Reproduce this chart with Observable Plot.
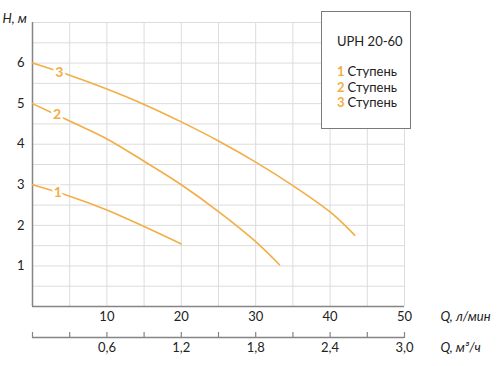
<!DOCTYPE html>
<html>
<head>
<meta charset="utf-8">
<script src="https://cdn.jsdelivr.net/npm/d3@7"></script>
<script src="https://cdn.jsdelivr.net/npm/@observablehq/plot@0.6"></script>
<style>
  body { margin: 0; background: #fff; }
  #wrap { position: relative; width: 500px; height: 366px; font-family: Lato, "Open Sans", sans-serif; }
  #legend { position: absolute; left: 321px; top: 11px; width: 90px; height: 118px; background: #fff;
            border: 1px solid #7a7a7a; box-sizing: border-box; color: #222; font-size: 13px; }
  #legend .t { position: absolute; left: 15px; top: 21px; }
  #legend .it { position: absolute; left: 15px; }
  #legend .n { color: #F2AE45; font-weight: bold; margin-right: 3px; }
</style>
</head>
<body>
<div id="wrap"></div>
<script>
// ---- data ----
const stages = [1, 2, 3];
const stageWord = "Ступень";
const modelName = "UPH 20-60";
const stage1Q = [0, 5, 10, 15, 20];
const stage1H = [3.0, 2.72, 2.38, 1.97, 1.54];
const stage2Q = [0, 5, 10, 15, 20, 25, 30, 33.2];
const stage2H = [5.0, 4.57, 4.13, 3.58, 3.0, 2.34, 1.60, 1.03];
const stage3Q = [0, 5, 10, 15, 20, 25, 30, 35, 40, 43.3];
const stage3H = [6.0, 5.70, 5.36, 4.98, 4.55, 4.08, 3.56, 2.98, 2.33, 1.76];
const labelQ = [3.4, 3.3, 3.6];
const labelH = [2.80, 4.72, 5.77];
const flowTicks = [10, 20, 30, 40, 50];            // л/мин
const m3Ticks = [0, 0.3, 0.6, 0.9, 1.2, 1.5, 1.8, 2.1, 2.4, 2.7, 3.0]; // м³/ч
const m3Labels = [0.6, 1.2, 1.8, 2.4, 3.0];
const headTicks = [1, 2, 3, 4, 5, 6];
const gridQ = [5, 10, 15, 20, 25, 30, 35, 40, 45, 50];
const gridH = [0.5, 1, 1.5, 2, 2.5, 3, 3.5, 4, 4.5, 5, 5.5, 6, 6.5, 7];

const m3ToLmin = 1000 / 60;
const orange = "#F2AE45";
const stageQ = [stage1Q, stage2Q, stage3Q];
const stageH = [stage1H, stage2H, stage3H];
const points = stages.flatMap((s, i) => stageQ[i].map((q, j) => ({stage: s, Q: q, H: stageH[i][j]})));
const labels = stages.map((s, i) => ({stage: s, Q: labelQ[i], H: labelH[i]}));

const chart = Plot.plot({
  width: 500,
  height: 366,
  marginLeft: 32,
  marginRight: 96,
  marginTop: 22,
  marginBottom: 60,
  style: {fontFamily: "Lato, 'Open Sans', sans-serif", fontSize: "13px", color: "#222", background: "#fff", overflow: "visible"},
  x: {domain: [0, 50], axis: null},
  y: {domain: [0, 7], axis: null},
  marks: [
    Plot.ruleX(gridQ, {stroke: "#dcdcdc", strokeWidth: 1}),
    Plot.ruleY(gridH, {stroke: "#dcdcdc", strokeWidth: 1}),
    Plot.ruleX([0], {stroke: "#858585", strokeWidth: 1.5}),
    Plot.ruleY([0], {stroke: "#858585", strokeWidth: 1.5}),
    Plot.line(points, {x: "Q", y: "H", z: "stage", stroke: orange, strokeWidth: 1.6, curve: "catmull-rom"}),
    Plot.text(labels, {x: "Q", y: "H", text: d => String(d.stage), fill: orange, stroke: "white", strokeWidth: 5,
      fontWeight: "bold", fontSize: 14}),
    // y tick labels
    Plot.text(headTicks, {y: d => d, frameAnchor: "left", dx: -8, textAnchor: "end", text: d => String(d), fill: "#222"}),
    // primary x labels (л/мин)
    Plot.text(flowTicks, {x: d => d, frameAnchor: "bottom", dy: 14, text: d => String(d), fill: "#222"}),
    // secondary axis (м³/ч)
    Plot.ruleY([0], {dy: 31, stroke: "#858585", strokeWidth: 1.5}),
    Plot.axisX(m3Ticks.map(v => v * m3ToLmin), {anchor: "top", tickSize: 6, tickFormat: () => "", label: null,
      dy: 315, stroke: "#858585", strokeWidth: 1.2}),
    Plot.text(m3Labels, {x: d => d * m3ToLmin, frameAnchor: "bottom", dy: 45,
      text: d => d.toFixed(1).replace(".", ","), fill: "#222"}),
    // axis titles
    Plot.text(["H, м"], {frameAnchor: "top-left", dx: -30, dy: -9, textAnchor: "start", fontStyle: "italic", fill: "#222"}),
    Plot.text(["Q, л/мин"], {frameAnchor: "bottom-right", dx: 36, dy: 14, textAnchor: "start", fontStyle: "italic", fill: "#222"}),
    Plot.text(["Q, м³/ч"], {frameAnchor: "bottom-right", dx: 36, dy: 45, textAnchor: "start", fontStyle: "italic", fill: "#222"})
  ]
});

const wrap = document.getElementById("wrap");
wrap.appendChild(chart);

const legend = document.createElement("div");
legend.id = "legend";
const t = document.createElement("div");
t.className = "t";
t.textContent = modelName;
legend.appendChild(t);
stages.forEach((s, i) => {
  const it = document.createElement("div");
  it.className = "it";
  it.style.top = (51 + i * 15.5) + "px";
  const n = document.createElement("span");
  n.className = "n";
  n.textContent = String(s);
  it.appendChild(n);
  it.appendChild(document.createTextNode(stageWord));
  legend.appendChild(it);
});
wrap.appendChild(legend);
</script>
</body>
</html>
